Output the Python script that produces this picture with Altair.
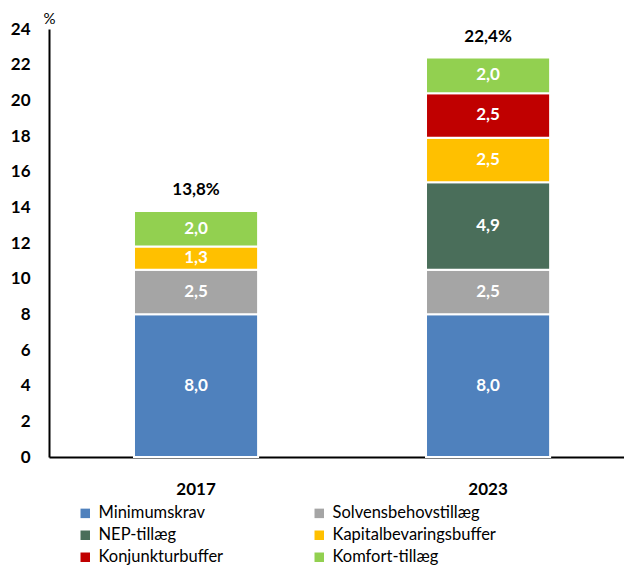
import altair as alt
import pandas as pd

years = ["2017", "2023"]
components = ["Minimumskrav", "Solvensbehovstillæg", "NEP-tillæg",
              "Kapitalbevaringsbuffer", "Konjunkturbuffer", "Komfort-tillæg"]
colors = ["#4F81BD", "#A5A5A5", "#4A6E5A", "#FFC000", "#C00000", "#92D050"]
values_2017 = [8.0, 2.5, 0.0, 1.3, 0.0, 2.0]
values_2023 = [8.0, 2.5, 4.9, 2.5, 2.5, 2.0]
y_ticks = [0, 2, 4, 6, 8, 10, 12, 14, 16, 18, 20, 22, 24]

rows = []
for y, vals in zip(years, [values_2017, values_2023]):
    for i, (c, v) in enumerate(zip(components, vals)):
        if v > 0:
            rows.append({"year": y, "comp": c, "value": v, "order": i})
df = pd.DataFrame(rows)

FONT = "Lato"

base = alt.Chart(df)

x_scale = alt.Scale(paddingInner=0.575, paddingOuter=0.272, align=0.535)
x_axis = alt.Axis(labelAngle=0, labelFont=FONT, labelFontSize=17,
                  labelFontWeight="bold", labelColor="black",
                  labelPadding=24, ticks=False, domainColor="black",
                  domainWidth=2, title=None)

y_scale = alt.Scale(domain=[0, 24], nice=False)
y_axis = alt.Axis(values=y_ticks, format="d",
                  grid=False, ticks=False, labelOverlap=False, labelSeparation=0,
                  labelFont=FONT, labelFontSize=17, labelFontWeight="bold",
                  labelColor="black", labelPadding=19,
                  domainColor="black", domainWidth=2,
                  title="%", titleAngle=0, titleFont=FONT,
                  titleFontSize=15, titleFontWeight="normal",
                  titleX=0, titleY=-3, titleAlign="center",
                  titleBaseline="bottom", titleColor="black")

bars = base.mark_bar(stroke="white", strokeWidth=2).encode(
    x=alt.X("year:N", sort=years, scale=x_scale, axis=x_axis),
    y=alt.Y("value:Q", stack="zero", scale=y_scale, axis=y_axis),
    color=alt.Color("comp:N", scale=alt.Scale(domain=components, range=colors),
                    legend=alt.Legend(title=None, orient="none", columns=2,
                                      direction="horizontal", padding=0,
                                      legendX=28, legendY=476,
                                      symbolType="square", symbolSize=90,
                                      symbolStrokeWidth=0, labelFont=FONT,
                                      labelFontSize=16.5, labelColor="black",
                                      labelOffset=5, rowPadding=5,
                                      columnPadding=87, labelLimit=300)),
    order=alt.Order("order:Q", sort="ascending"),
)

labels = base.transform_window(
    cum="sum(value)", sort=[alt.SortField("order")], groupby=["year"],
    frame=[None, 0]
).transform_calculate(
    mid="datum.cum - datum.value / 2",
    txt="replace(format(datum.value, '.1f'), '.', ',')"
).mark_text(font=FONT, fontSize=17, fontWeight="bold", color="white",
            baseline="middle").encode(
    x=alt.X("year:N", sort=years, scale=x_scale, axis=x_axis),
    y=alt.Y("mid:Q", scale=y_scale, axis=y_axis),
    text="txt:N",
)

totals = base.transform_aggregate(
    total="sum(value)", groupby=["year"]
).transform_calculate(
    txt="replace(format(datum.total, '.1f'), '.', ',') + '%'"
).mark_text(font=FONT, fontSize=17, fontWeight="bold", color="black",
            baseline="middle", dy=-21).encode(
    x=alt.X("year:N", sort=years, scale=x_scale, axis=x_axis),
    y=alt.Y("total:Q", scale=y_scale, axis=y_axis),
    text="txt:N",
)

chart = (bars + labels + totals).properties(
    width=575, height=428,
    padding={"left": 41, "top": 21, "right": 0, "bottom": 110},
    autosize=alt.AutoSizeParams(type="none"),
).configure_view(stroke=None).configure_axis(labelOverlap=False)

chart.save("out.html", embed_options={"renderer": "svg", "actions": False})
